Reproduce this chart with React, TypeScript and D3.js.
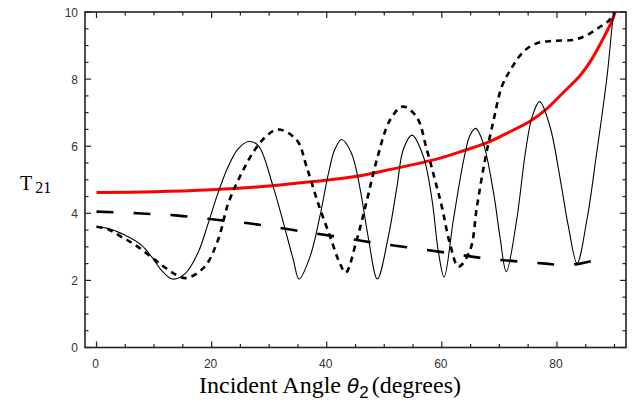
import React from "react";
import * as d3 from "d3";

// Incident angle (degrees) and T21 values
const redX = [0, 10, 20, 28.4, 35, 40.6, 45.8, 50, 55, 60, 64, 67.8, 71, 75.4, 78, 81.1, 84, 86, 88, 89.6, 90.2];
const redY = [4.62, 4.64, 4.7, 4.79, 4.9, 5.0, 5.12, 5.27, 5.45, 5.66, 5.88, 6.1, 6.36, 6.75, 7.08, 7.6, 8.1, 8.58, 9.2, 9.75, 10.05];

const solidX = [0, 2, 4.9, 7.8, 9.6, 11.3, 13.2, 15.4, 17.7, 19.4, 21.1, 22.9, 24.6, 26.4, 28.1, 30.7, 32.5, 34.2, 35.2,
  37.1, 38.8, 40.3, 41.4, 42.6, 44.3, 45.8, 47.2, 48.8, 50.7, 52.2, 53.3, 54.8, 56.8, 58.3, 59.4, 60.4,
  62, 63.8, 64.9, 65.9, 67.2, 69, 70.1, 71.2, 73, 74.5, 75.7, 77, 78.8, 80.6, 82, 83.5, 85.2, 86.9, 88.7, 89.7, 90.2];
const solidY = [3.6, 3.55, 3.35, 3.05, 2.7, 2.3, 2.04, 2.2, 2.85, 3.7, 4.6, 5.4, 5.92, 6.14, 6.02, 4.79, 3.7, 2.61, 2.04,
  2.71, 3.9, 5.19, 5.9, 6.2, 5.79, 4.73, 3.3, 2.04, 3.3, 4.79, 5.9, 6.33, 5.69, 4.4, 2.85, 2.1,
  3.8, 5.59, 6.33, 6.53, 6.09, 4.6, 3.3, 2.26, 3.8, 5.79, 6.88, 7.33, 6.58, 4.99, 3.6, 2.51, 3.8, 5.79, 8.07, 9.76, 10.4];

const shortX = [0, 2, 4.3, 7.2, 11.3, 13.9, 15.7, 18.8, 21.1, 22.9, 25.2, 27.5, 29.5, 31.6, 34.8, 36.5, 38.5, 40.6, 42.3, 43.3,
  45.2, 47, 48.7, 51, 53.2, 55.6, 57.4, 58.8, 60, 61.4, 62.9, 64.9, 66.1, 67.5, 69, 70.4, 71.9, 74.2, 76.5, 79.4, 82.9, 85.2, 87.5, 89.1, 90.2];
const shortY = [3.6, 3.52, 3.3, 3.0, 2.46, 2.16, 2.07, 2.41, 3.2, 4.3, 5.19, 5.89, 6.3, 6.5, 6.18, 5.39, 4.3, 3.3, 2.5, 2.23,
  3.2, 4.4, 5.59, 6.78, 7.18, 6.88, 5.89, 5.0, 4.2, 3.1, 2.41, 2.9, 4.2, 5.59, 6.78, 7.77, 8.27, 8.82, 9.07, 9.14, 9.17, 9.31, 9.56, 9.76, 10.1];

const longX = [0, 7, 14.2, 21.2, 27.8, 34.2, 41.1, 47.5, 53.9, 61.4, 67.2, 73.6, 78, 81.1, 84, 86.5, 89];
const longY = [4.05, 4.0, 3.93, 3.8, 3.67, 3.5, 3.32, 3.14, 2.99, 2.81, 2.66, 2.56, 2.5, 2.46, 2.5, 2.6, 2.76];

const xMajor = [0, 20, 40, 60, 80];
const xMinor = d3.range(0, 91, 5);
const yMajor = [0, 2, 4, 6, 8, 10];
const yMinor = d3.range(0, 10.01, 0.5);

const W = 632;
const H = 410;
const left = 85;
const right = 626;
const top = 12;
const bottom = 347.5;

const x = d3.scaleLinear().domain([-2, 92]).range([left, right]);
const y = d3.scaleLinear().domain([0, 10]).range([bottom, top]);

const line = d3
  .line<[number, number]>()
  .x((d) => x(d[0]))
  .y((d) => y(d[1]))
  .curve(d3.curveCatmullRom.alpha(0.5));

const zip = (a: number[], b: number[]) => a.map((v, i) => [v, b[i]] as [number, number]);

const tickFont = "'Liberation Sans', Arial, sans-serif";

const App = () => {
  return (
    <svg width={W} height={H} style={{ position: "absolute", left: 0, top: 0, background: "#fff" }}>
      <defs>
        <clipPath id="plot">
          <rect x={left} y={top} width={right - left} height={bottom - top} />
        </clipPath>
      </defs>

      {/* curves */}
      <g clipPath="url(#plot)" fill="none">
        <path d={line(zip(longX, longY)) || ""} stroke="#000" strokeWidth={2.6} strokeDasharray="17,20" />
        <path d={line(zip(redX, redY)) || ""} stroke="#ff0000" strokeWidth={3} />
        <path d={line(zip(solidX, solidY)) || ""} stroke="#000" strokeWidth={1.1} />
        <path d={line(zip(shortX, shortY)) || ""} stroke="#000" strokeWidth={2.6} strokeDasharray="6,5" />
      </g>

      {/* frame */}
      <rect x={left} y={top} width={right - left} height={bottom - top} fill="none" stroke="#222" strokeWidth={1.6} />

      {/* x ticks, bottom and top */}
      {xMinor.map((t) => {
        const len = xMajor.includes(t) ? 6 : 3.5;
        return (
          <g key={"xt" + t} stroke="#222" strokeWidth={1.2}>
            <line x1={x(t)} x2={x(t)} y1={bottom} y2={bottom - len} />
            <line x1={x(t)} x2={x(t)} y1={top} y2={top + len} />
          </g>
        );
      })}
      {/* y ticks, left and right */}
      {yMinor.map((t) => {
        const len = yMajor.includes(t) ? 6 : 3.5;
        return (
          <g key={"yt" + t} stroke="#222" strokeWidth={1.2}>
            <line x1={left} x2={left + len} y1={y(t)} y2={y(t)} />
            <line x1={right} x2={right - len} y1={y(t)} y2={y(t)} />
          </g>
        );
      })}

      {/* tick labels */}
      {xMajor.map((t) => (
        <text key={"xl" + t} x={x(t) - 1} y={368} textAnchor="middle" fontFamily={tickFont} fontSize={12} fill="#333">
          {t}
        </text>
      ))}
      {yMajor.map((t) => (
        <text key={"yl" + t} x={78} y={y(t) + 4.5} textAnchor="end" fontFamily={tickFont} fontSize={12} fill="#333">
          {t}
        </text>
      ))}

      {/* axis labels */}
      <text x={20} y={190} fontFamily="'Liberation Serif', serif" fontSize={20} fill="#000">
        T<tspan fontSize={16} dx={3} dy={3}>21</tspan>
      </text>
      <text x={199} y={393} fontFamily="'Liberation Serif', serif" fontSize={24} fill="#000">
        Incident Angle <tspan fontStyle="italic" fontFamily="'DejaVu Sans', sans-serif" fontSize={20}>θ</tspan>
        <tspan fontSize={17} dy={5} fontFamily="'Liberation Sans', sans-serif">2</tspan>
        <tspan dx={3} dy={-5}>(degrees)</tspan>
      </text>
    </svg>
  );
};

export default App;
